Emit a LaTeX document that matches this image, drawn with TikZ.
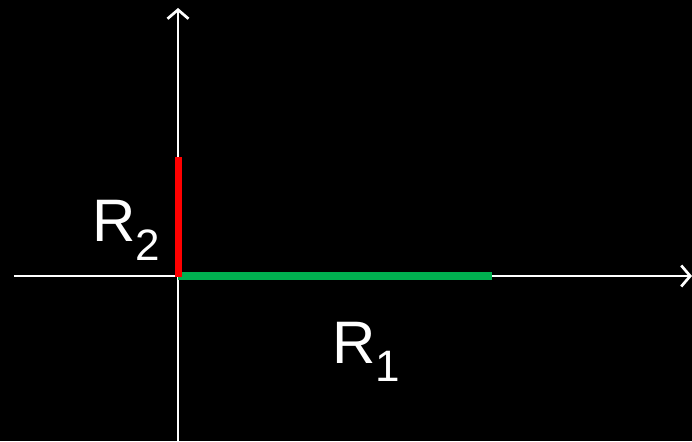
\documentclass[tikz,border=0pt]{standalone}
\usepackage{fontspec}
\setmainfont{Liberation Sans}
\usetikzlibrary{arrows.meta}
\definecolor{rgreen}{RGB}{0,176,80}
\definecolor{rred}{RGB}{255,0,0}
\tikzset{
    axis/.style={white, line width=2.7pt, -{Straight Barb[length=9pt, width=21pt, line width=2.7pt]}},
    seg/.style={line width=7pt},
    lbl/.style={white, inner sep=0pt, anchor=base west, font=\fontsize{60}{60}\selectfont}
}
\newcommand{\sublbl}[1]{\raisebox{-18pt}{\fontsize{44}{44}\selectfont #1}}
\begin{document}
\begin{tikzpicture}[x=1pt, y=1pt, line join=round]
    \fill[black] (-178,-165) rectangle (514,276);
    \useasboundingbox (-178,-165) rectangle (514,276);
    \coordinate (O) at (0,0);
    \coordinate (xl) at (-164,0);
    \coordinate (xr) at (514,0);
    \coordinate (yb) at (0,-165);
    \coordinate (yt) at (0,268);
    \coordinate (r2) at (0,119);
    \coordinate (r1) at (314,0);
    \draw[axis] (xl)--(xr);
    \draw[axis] (yb)--(yt);
    \draw[seg, rgreen] (O)--(r1);
    \draw[seg, rred, line cap=butt] (0,-1)--(r2);
    \node[lbl] (labtwo) at (-86,34) {R\sublbl{2}};
    \node[lbl] (labone) at (154,-87) {R\sublbl{1}};
\end{tikzpicture}
\end{document}
